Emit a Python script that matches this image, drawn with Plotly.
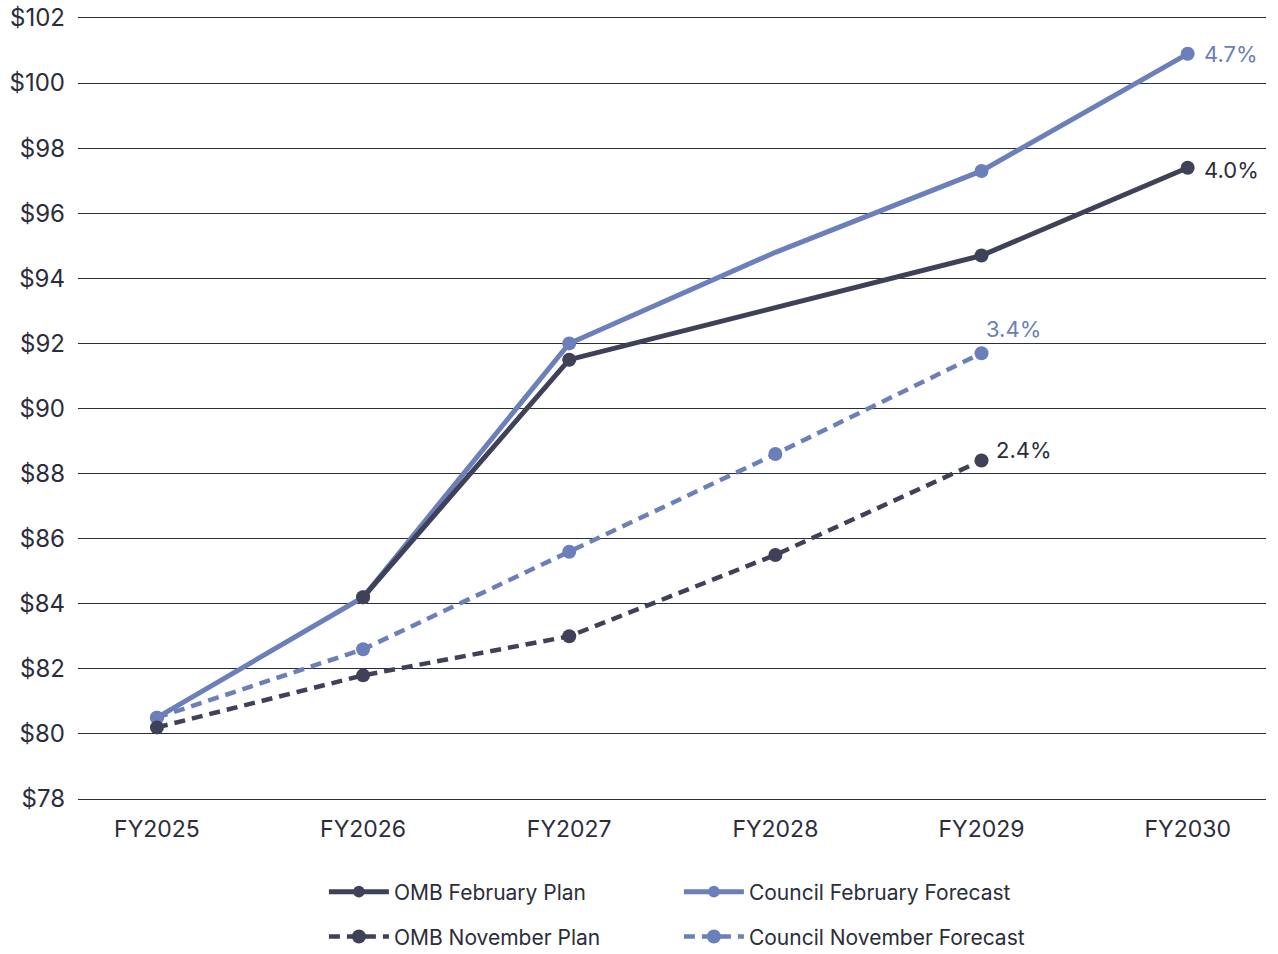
import plotly.graph_objects as go

# Fiscal years on the x axis
years = ["FY2025", "FY2026", "FY2027", "FY2028", "FY2029", "FY2030"]

# Revenue forecasts, $ billions
omb_feb = [None, 84.2, 91.5, 93.1, 94.7, 97.4]
council_feb = [80.5, 84.2, 92.0, 94.8, 97.3, 100.9]
omb_nov = [80.2, 81.8, 83.0, 85.5, 88.4, None]
council_nov = [80.5, 82.6, 85.6, 88.6, 91.7, None]

# Average annual growth labels at the end of each series
growth_labels = {
    "Council February Forecast": "4.7%",
    "OMB February Plan": "4.0%",
    "Council November Forecast": "3.4%",
    "OMB November Plan": "2.4%",
}

y_ticks = list(range(78, 103, 2))
y_tick_text = [f"${v}" for v in y_ticks]

DARK = "#3f4159"
LIGHT = "#6b80ba"
TEXT = "#2b2d3b"
GRID = "#2b2d3a"
FONT = "Inter, Roboto, Arial, sans-serif"

fig = go.Figure()

# Feb series: no marker on FY2028
feb_marker_sizes = [14, 14, 14, 0, 14, 14]
nov_marker_sizes = [14, 14, 14, 14, 14, 14]
DASH = "11px,7px"

def marker(color, sizes):
    return dict(color=color, size=sizes, opacity=1, line=dict(width=0))

fig.add_trace(go.Scatter(
    x=years, y=council_feb, name="Council February Forecast", mode="lines+markers",
    line=dict(color=LIGHT, width=5), marker=marker(LIGHT, feb_marker_sizes),
    legend="legend", legendrank=2,
))
fig.add_trace(go.Scatter(
    x=years, y=council_nov, name="Council November Forecast", mode="lines+markers",
    line=dict(color=LIGHT, width=4.5, dash=DASH), marker=marker(LIGHT, nov_marker_sizes),
    legend="legend2", legendrank=2,
))
fig.add_trace(go.Scatter(
    x=years, y=omb_feb, name="OMB February Plan", mode="lines+markers",
    line=dict(color=DARK, width=5), marker=marker(DARK, feb_marker_sizes),
    legend="legend", legendrank=1,
))
fig.add_trace(go.Scatter(
    x=years, y=omb_nov, name="OMB November Plan", mode="lines+markers",
    line=dict(color=DARK, width=4.5, dash=DASH), marker=marker(DARK, nov_marker_sizes),
    legend="legend2", legendrank=1,
))

def last_point(values):
    idx = max(i for i, v in enumerate(values) if v is not None)
    return years[idx], values[idx]

LABEL_SIZE = 22
x, y = last_point(council_feb)
fig.add_annotation(x=x, y=y, text=growth_labels["Council February Forecast"], showarrow=False,
                   xanchor="left", xshift=14, font=dict(color=LIGHT, size=LABEL_SIZE, family=FONT))
x, y = last_point(omb_feb)
fig.add_annotation(x=x, y=y, text=growth_labels["OMB February Plan"], showarrow=False,
                   xanchor="left", xshift=14, yshift=-2, font=dict(color=TEXT, size=LABEL_SIZE, family=FONT))
x, y = last_point(council_nov)
fig.add_annotation(x=x, y=y, text=growth_labels["Council November Forecast"], showarrow=False,
                   xanchor="center", xshift=32, yshift=24, font=dict(color=LIGHT, size=LABEL_SIZE, family=FONT))
x, y = last_point(omb_nov)
fig.add_annotation(x=x, y=y, text=growth_labels["OMB November Plan"], showarrow=False,
                   xanchor="left", xshift=12, yshift=11, font=dict(color=TEXT, size=LABEL_SIZE, family=FONT))

legend_common = dict(
    orientation="h", xanchor="left", yanchor="middle", x=0.207,
    yref="container",
    font=dict(size=21, color=TEXT, family=FONT), entrywidth=280, entrywidthmode="pixels",
    bgcolor="rgba(0,0,0,0)", itemwidth=60,
)

fig.update_layout(
    width=1278, height=954,
    margin=dict(l=78, r=12, t=18, b=155, autoexpand=False),
    paper_bgcolor="white", plot_bgcolor="white",
    font=dict(family=FONT, color=TEXT, size=21),
    showlegend=True,
    legend=dict(**legend_common, y=0.065),
    legend2=dict(**legend_common, y=0.018),
    xaxis=dict(
        type="category", range=[-0.383, 5.38], showgrid=False, zeroline=False,
        showline=True, mirror=True, linecolor=GRID, linewidth=1,
        ticks="", tickfont=dict(size=23, color=TEXT, family=FONT),
        ticklabelstandoff=9, automargin=False,
    ),
    yaxis=dict(
        range=[78, 102], tickvals=y_ticks, ticktext=y_tick_text,
        showgrid=True, gridcolor=GRID, gridwidth=1, zeroline=False, showline=False,
        ticks="", tickfont=dict(size=24, color=TEXT, family=FONT), ticklabelstandoff=12,
        automargin=False,
    ),
)

fig.write_html("out.html")
